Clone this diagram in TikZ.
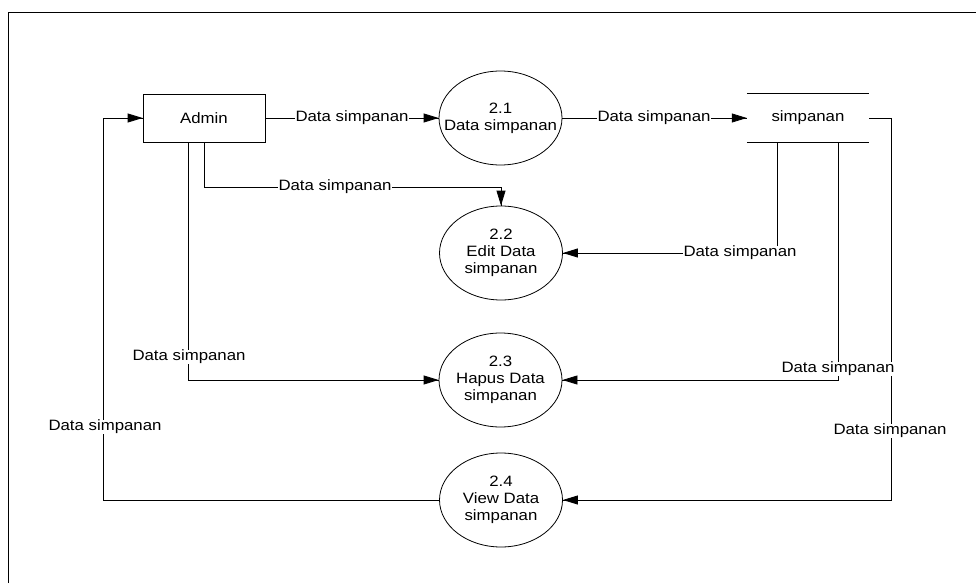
\documentclass[tikz,border=0pt]{standalone}
\usepackage{fontspec}
\setmainfont{Liberation Sans}[FakeStretch=1.12]
\usetikzlibrary{shapes.geometric,arrows.meta,calc}
\begin{document}
\begin{tikzpicture}[x=1pt,y=-1pt,
  every node/.style={font=\fontsize{15}{17}\selectfont},
  line/.style={draw=black,line width=0.8pt},
  flow/.style={line,-{Triangle[length=15pt,width=9pt]}},
  proc/.style={ellipse,draw=black,line width=0.8pt,minimum width=123pt,minimum height=94pt,inner xsep=-20pt,inner ysep=0pt,align=center},
  entity/.style={rectangle,draw=black,line width=0.8pt,minimum width=122pt,minimum height=48pt,inner sep=0pt},
  store/.style={rectangle,minimum width=122pt,minimum height=48pt,inner sep=0pt},
  lbl/.style={fill=white,inner sep=0.5pt}]
\useasboundingbox (0,0) rectangle (976,583);
% frame
\draw[line] (8,583) -- (8,12) -- (976,12);
% nodes
\node[entity] (admin) at (204,118) {Admin};
\node[proc] (e21) at (500.5,118) {2.1\\Data simpanan};
\node[proc] (e22) at (501,253) {2.2\\Edit Data\\simpanan};
\node[proc] (e23) at (500.5,380) {2.3\\Hapus Data\\simpanan};
\node[proc] (e24) at (501,500) {2.4\\View Data\\simpanan};
\node[store] (st) at (808,118) {simpanan};
\draw[line] (st.north west) -- (st.north east);
\draw[line] (st.south west) -- (st.south east);
% connectors
\draw[line] (admin.east) -- (e21.west);
\draw[line] (e21.east) -- (st.west);
\draw[line] (admin.south) -- ++(0,45) coordinate (c1) -| (e22.north);
\draw[line] ([xshift=-16pt]admin.south) |- (e23.west);
\draw[line] (e24.west) -| ([xshift=-39pt]admin.west) -- (admin.west);
\draw[line] ([xshift=-31pt]st.south) |- (e22.east);
\draw[line] ([xshift=30pt]st.south) |- (e23.east);
\draw[line] (st.east) -- ++(22,0) coordinate (c2) |- (e24.east);
% labels
\node[lbl] (l1) at (352,118) {Data simpanan};
\node[lbl] (l2) at (654,118) {Data simpanan};
\node[lbl] (l3) at (335,187) {Data simpanan};
\node[lbl] (l4) at (740,253) {Data simpanan};
\node[lbl] (l5) at (189,357) {Data simpanan};
\node[lbl] (l6) at (838,369) {Data simpanan};
\node[lbl] (l7) at (105,427) {Data simpanan};
\node[lbl] (l8) at (890,431) {Data simpanan};
% arrow heads on top
\draw[flow] ([xshift=-18pt]e21.west) -- (e21.west);
\draw[flow] ([xshift=-18pt]st.west) -- (st.west);
\draw[flow] ([yshift=18pt]e22.north) -- (e22.north);
\draw[flow] ([xshift=18pt]e22.east) -- (e22.east);
\draw[flow] ([xshift=-18pt]e23.west) -- (e23.west);
\draw[flow] ([xshift=18pt]e23.east) -- (e23.east);
\draw[flow] ([xshift=18pt]e24.east) -- (e24.east);
\draw[flow] ([xshift=-18pt]admin.west) -- (admin.west);
\end{tikzpicture}
\end{document}
